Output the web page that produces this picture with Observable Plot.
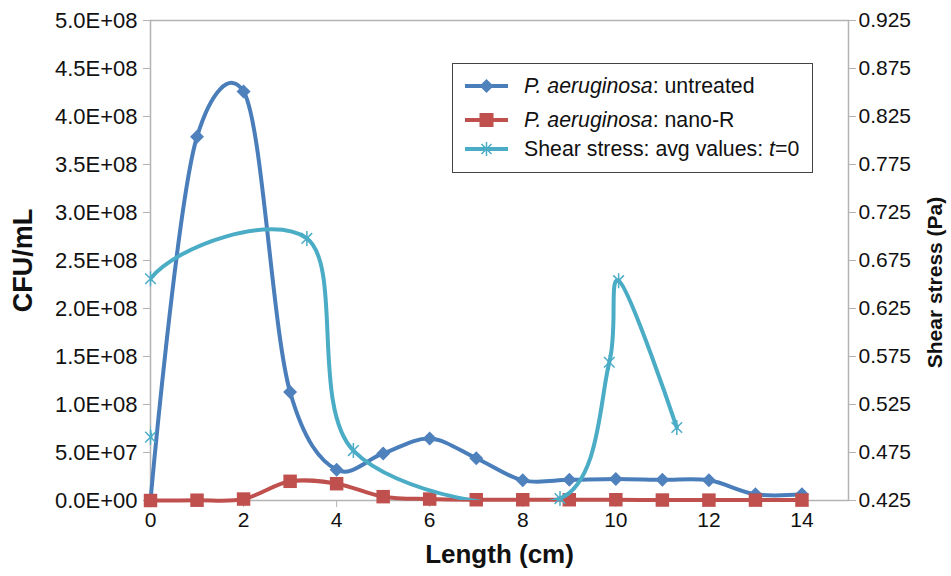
<!DOCTYPE html>
<html>
<head>
<meta charset="utf-8">
<script src="https://cdn.jsdelivr.net/npm/d3@7"></script>
<script src="https://cdn.jsdelivr.net/npm/@observablehq/plot@0.6"></script>
<style>
  html, body { margin: 0; padding: 0; background: #fff; }
  #wrap { position: relative; width: 951px; height: 576px; font-family: "Liberation Sans", Arial, sans-serif; }
  #legend { position: absolute; left: 452px; top: 63px; width: 361px; height: 110px; border: 1.5px solid #444; background: #fff; box-sizing: border-box; }
  .row { position: absolute; left: 12px; display: flex; align-items: center; font-size: 21.3px; color: #111; white-space: nowrap; }
  .row svg { margin-right: 16px; }
</style>
</head>
<body>
<div id="wrap"></div>
<script>
// ---- data ----
const lengthCm = [0, 1, 2, 3, 4, 5, 6, 7, 8, 9, 10, 11, 12, 13, 14];
const untreated = [0, 3.79e8, 4.26e8, 1.13e8, 0.32e8, 0.49e8, 0.645e8, 0.44e8, 0.21e8, 0.215e8, 0.225e8, 0.215e8, 0.21e8, 0.065e8, 0.065e8];
const nanoR = [0, 0.003e8, 0.015e8, 0.2e8, 0.175e8, 0.04e8, 0.015e8, 0.008e8, 0.008e8, 0.008e8, 0.008e8, 0.005e8, 0.004e8, 0.004e8, 0.004e8];
const shearX = [0, 0, 3.36, 4.36, 8.8, 9.86, 10.06, 11.31];
const shearPa = [0.491, 0.656, 0.698, 0.477, 0.427, 0.569, 0.654, 0.501];
const xTicks = [0, 2, 4, 6, 8, 10, 12, 14];
const cfuTicks = [0, 0.5e8, 1e8, 1.5e8, 2e8, 2.5e8, 3e8, 3.5e8, 4e8, 4.5e8, 5e8];
const paTicks = [0.425, 0.475, 0.525, 0.575, 0.625, 0.675, 0.725, 0.775, 0.825, 0.875, 0.925];
const seriesNames = ["untreated", "nano-R", "Shear stress: avg values: "];

// secondary axis mapping (Pa -> CFU scale)
const paMin = 0.425, paMax = 0.925, cfuMax = 5e8;
const paToY = p => (p - paMin) / (paMax - paMin) * cfuMax;

const blue = "#4a7ebb", blueMk = "#4f81bd", red = "#c0504d", cyan = "#4bacc6";
const axisGrey = "#b3b3b3";
const smooth = d3.curveCatmullRom.alpha(0.2);

const tUntreated = lengthCm.map((x, i) => ({x, y: untreated[i]}));
const tNano = lengthCm.map((x, i) => ({x, y: nanoR[i]}));
const tShear = shearX.map((x, i) => ({x, y: paToY(shearPa[i])}));

function fmtE(v) {
  if (v === 0) return "0.0E+00";
  const [m, e] = v.toExponential(1).split("e");
  const n = +e;
  return m + "E" + (n < 0 ? "-" : "+") + String(Math.abs(n)).padStart(2, "0");
}

const asterisk = {
  draw(ctx, size) {
    const r = Math.sqrt(size / Math.PI);
    const d = r * Math.SQRT1_2;
    ctx.moveTo(-d, -d); ctx.lineTo(d, d);
    ctx.moveTo(-d, d); ctx.lineTo(d, -d);
    ctx.moveTo(0, -r); ctx.lineTo(0, r);
  }
};

const chart = Plot.plot({
  width: 951,
  height: 576,
  marginLeft: 150,
  marginRight: 103,
  marginTop: 20,
  marginBottom: 76,
  style: { fontFamily: "Liberation Sans, Arial, sans-serif", fontSize: "21px", background: "white", color: "#111", overflow: "visible" },
  x: { domain: [0, 15] },
  y: { domain: [0, cfuMax] },
  marks: [
    Plot.frame({ stroke: axisGrey, strokeWidth: 1.5 }),
    Plot.axisX({ ticks: xTicks, tickSize: 7, tickPadding: 5, stroke: axisGrey, fill: "#111", label: null, fontSize: 21, tickFormat: d => String(d) }),
    Plot.axisY({ anchor: "left", ticks: cfuTicks, tickSize: 7, tickPadding: 6, stroke: axisGrey, fill: "#111", label: null, fontSize: 22, tickFormat: fmtE }),
    Plot.axisY({ anchor: "right", ticks: paTicks.map(paToY), tickSize: 7, tickPadding: 3, stroke: axisGrey, fill: "#111", label: null, fontSize: 21,
      tickFormat: d => (d / cfuMax * (paMax - paMin) + paMin).toFixed(3) }),
    Plot.text(["Length (cm)"], { frameAnchor: "bottom", dy: 62, fontSize: 26, fontWeight: "bold", fill: "#111", textAnchor: "middle" }),
    Plot.text(["CFU/mL"], { frameAnchor: "left", dx: -127, rotate: -90, fontSize: 27, fontWeight: "bold", fill: "#111", textAnchor: "middle" }),
    Plot.text(["Shear stress (Pa)"], { frameAnchor: "right", dx: 87, dy: 22, rotate: -90, fontSize: 21, fontWeight: "bold", fill: "#111", textAnchor: "middle" }),
    Plot.line(tUntreated, { x: "x", y: "y", stroke: blue, strokeWidth: 4, curve: smooth }),
    Plot.dot(tUntreated, { x: "x", y: "y", symbol: "diamond2", r: 6.3, fill: blueMk, stroke: "none" }),
    Plot.line(tNano, { x: "x", y: "y", stroke: red, strokeWidth: 4, curve: smooth }),
    Plot.dot(tNano, { x: "x", y: "y", symbol: "square", r: 7.6, fill: red, stroke: "none" }),
    Plot.line(tShear, { x: "x", y: "y", stroke: cyan, strokeWidth: 4, curve: smooth, clip: true }),
    Plot.dot(tShear, { x: "x", y: "y", symbol: asterisk, r: 7.5, fill: "none", stroke: cyan, strokeWidth: 1.5 })
  ]
});

const wrap = document.getElementById("wrap");
wrap.appendChild(chart);

// legend overlay
function sample(kind, color, lineColor) {
  let mk = "";
  if (kind === "diamond") mk = `<path d="M21.5,14 L28.5,21 L21.5,28 L14.5,21 Z" fill="${color}"/>`;
  if (kind === "square") mk = `<rect x="14.5" y="14" width="14" height="14" fill="${color}"/>`;
  if (kind === "asterisk") mk = `<path d="M16.5,16 L26.5,26 M16.5,26 L26.5,16 M21.5,14 L21.5,28" stroke="${color}" stroke-width="1.5" fill="none"/>`;
  return `<svg width="43" height="42" viewBox="0 0 43 42"><line x1="0" y1="21" x2="43" y2="21" stroke="${lineColor}" stroke-width="4" stroke-linecap="round"/>${mk}</svg>`;
}
const legend = document.createElement("div");
legend.id = "legend";
legend.innerHTML =
  `<div class="row" style="top:1px">${sample("diamond", blueMk, blue)}<span><i>P. aeruginosa</i>: ${seriesNames[0]}</span></div>` +
  `<div class="row" style="top:35px">${sample("square", red, red)}<span><i>P. aeruginosa</i>: ${seriesNames[1]}</span></div>` +
  `<div class="row" style="top:64px">${sample("asterisk", cyan, cyan)}<span>${seriesNames[2]}<i>t</i>=0</span></div>`;
wrap.appendChild(legend);
</script>
</body>
</html>
